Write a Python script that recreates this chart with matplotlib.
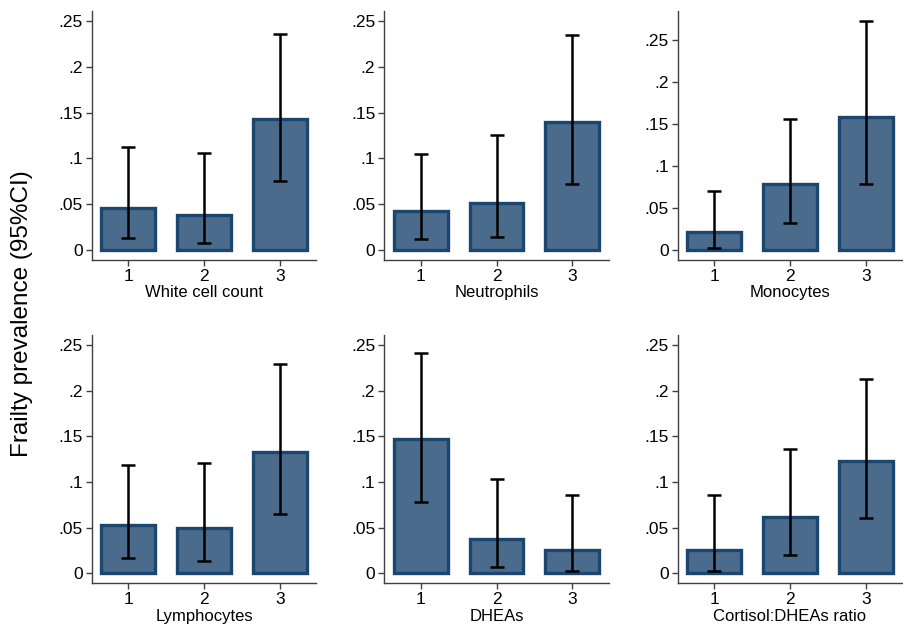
import matplotlib
matplotlib.use("Agg")
import matplotlib.pyplot as plt
import numpy as np

plt.rcParams['font.family'] = ['Liberation Sans', 'DejaVu Sans']

categories = ["1", "2", "3"]
panel_titles = ["White cell count", "Neutrophils", "Monocytes",
                "Lymphocytes", "DHEAs", "Cortisol:DHEAs ratio"]

white_cell = [0.0455, 0.0379, 0.143]
white_cell_lo = [0.0131, 0.008, 0.0753]
white_cell_hi = [0.1128, 0.106, 0.236]

neutrophils = [0.0422, 0.0517, 0.1394]
neutrophils_lo = [0.012, 0.0142, 0.0724]
neutrophils_hi = [0.1048, 0.1255, 0.235]

monocytes = [0.0211, 0.079, 0.159]
monocytes_lo = [0.0024, 0.0326, 0.079]
monocytes_hi = [0.0703, 0.1566, 0.2734]

lymphocytes = [0.0529, 0.0493, 0.1325]
lymphocytes_lo = [0.0168, 0.0139, 0.0653]
lymphocytes_hi = [0.1186, 0.1212, 0.2288]

dheas = [0.1471, 0.0376, 0.0255]
dheas_lo = [0.0781, 0.0069, 0.0029]
dheas_hi = [0.2412, 0.1033, 0.0861]

cortisol_ratio = [0.0255, 0.0617, 0.123]
cortisol_ratio_lo = [0.0029, 0.0201, 0.0606]
cortisol_ratio_hi = [0.0861, 0.1365, 0.2128]

yticks = [0, 0.05, 0.1, 0.15, 0.2, 0.25]
ytick_labels = ["0", ".05", ".1", ".15", ".2", ".25"]

panels = [
    (white_cell, white_cell_lo, white_cell_hi),
    (neutrophils, neutrophils_lo, neutrophils_hi),
    (monocytes, monocytes_lo, monocytes_hi),
    (lymphocytes, lymphocytes_lo, lymphocytes_hi),
    (dheas, dheas_lo, dheas_hi),
    (cortisol_ratio, cortisol_ratio_lo, cortisol_ratio_hi),
]

W, H = 904, 628
fig = plt.figure(figsize=(W / 100, H / 100), dpi=100)

lefts = [91.7, 384.3, 677.7]
width_px = 224.5
rows = [(11, 260), (335, 583.3)]
ylims = [(-0.011, 0.261), (-0.011, 0.261), (-0.012, 0.285),
         (-0.011, 0.261), (-0.011, 0.261), (-0.011, 0.261)]

fill = "#4a6b8c"
edge = "#1b4670"
x = np.arange(1, 4)

for i, (vals, lo, hi) in enumerate(panels):
    r, c = divmod(i, 3)
    top, bot = rows[r]
    ax = fig.add_axes([lefts[c] / W, 1 - bot / H, width_px / W, (bot - top) / H])
    ax.bar(x, vals, width=0.71, color=fill, edgecolor=edge, linewidth=2.4, zorder=2)
    vals_a = np.array(vals)
    yerr = np.vstack([vals_a - np.array(lo), np.array(hi) - vals_a])
    ax.errorbar(x, vals, yerr=yerr, fmt='none', ecolor='black', elinewidth=1.8,
                capsize=5, capthick=1.8, zorder=3)
    ax.set_xlim(0.518, 3.482)
    ax.set_ylim(*ylims[i])
    ax.set_yticks(yticks)
    ax.set_yticklabels(ytick_labels)
    ax.set_xticks(x)
    ax.set_xticklabels(categories)
    ax.set_xlabel(panel_titles[i], fontsize=12, labelpad=1)
    for s in ["top", "right"]:
        ax.spines[s].set_visible(False)
    for s in ["left", "bottom"]:
        ax.spines[s].set_color("#404040")
        ax.spines[s].set_linewidth(1.0)
    ax.tick_params(axis='both', labelsize=12.5, length=4.5, width=1, color="#404040", pad=2)

fig.text(22 / W, 0.5, "Frailty prevalence (95%CI)", rotation=90, va='center', ha='center', fontsize=17.5)

fig.savefig("out.png", dpi=100)
